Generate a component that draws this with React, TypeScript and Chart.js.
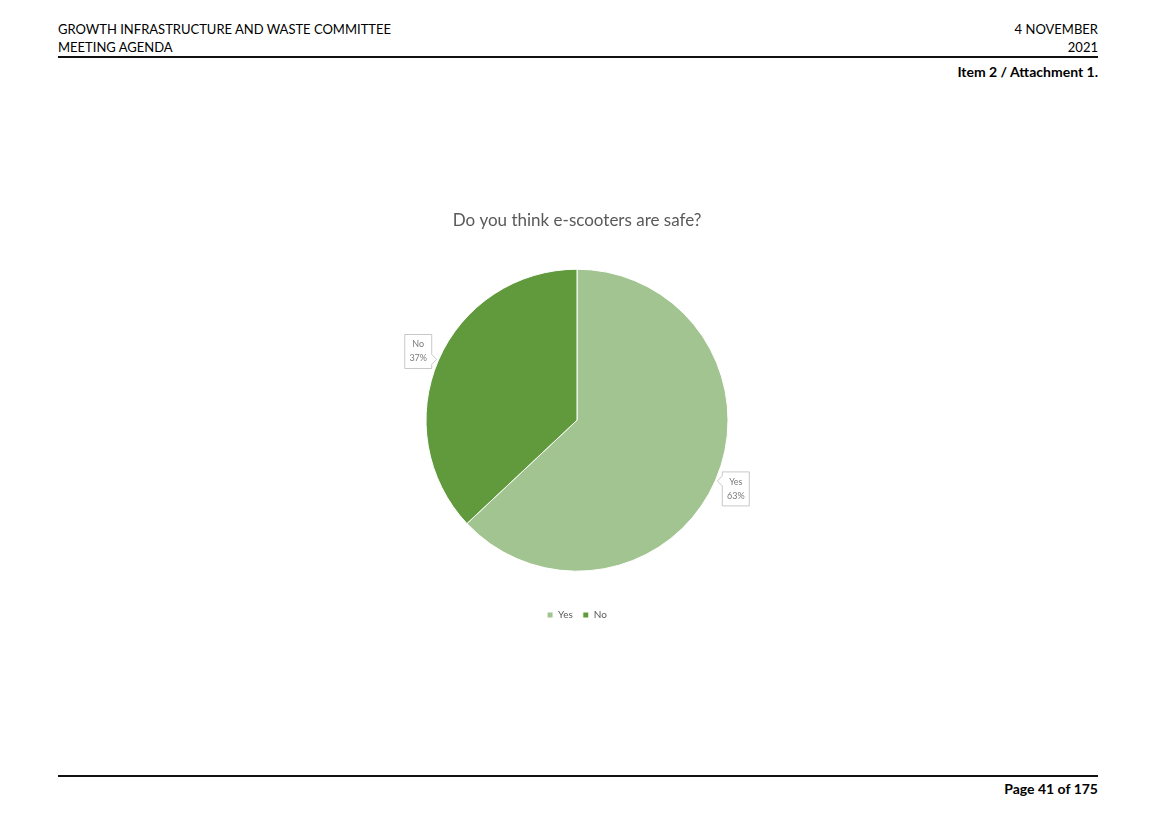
import React, { useEffect, useRef } from "react";
import { Chart, registerables } from "chart.js";

Chart.register(...registerables);

const categories = ["Yes", "No"];
const percentValues = [63, 37];
const sliceColors = ["#A2C491", "#619A3D"];
const chartTitle = "Do you think e-scooters are safe?";

const FONT = "Lato, 'Open Sans', sans-serif";

const calloutPlugin = {
  id: "callouts",
  afterDatasetsDraw(chart: any) {
    const meta = chart.getDatasetMeta(0);
    const ctx = chart.ctx as CanvasRenderingContext2D;
    const values = chart.data.datasets[0].data as number[];
    const labels = chart.data.labels as string[];
    meta.data.forEach((arc: any, i: number) => {
      const p = arc.getProps(["x", "y", "startAngle", "endAngle", "outerRadius"], true);
      const mid = (p.startAngle + p.endAngle) / 2;
      const ux = Math.cos(mid);
      const uy = Math.sin(mid);
      const bw = 27;
      const bh = 34;
      const cx = p.x + ux * (p.outerRadius + 22);
      const cy = p.y + uy * (p.outerRadius + 22);
      const l = cx - bw / 2, r = cx + bw / 2, t = cy - bh / 2, b = cy + bh / 2;
      const tx = p.x + ux * (p.outerRadius + 2);
      const ty = p.y + uy * (p.outerRadius + 2);
      const pts: [number, number][] = [];
      const half = 5;
      const clampY = Math.min(Math.max(ty, t + half + 1), b - half - 1);
      if (ux < 0) {
        pts.push([l, t], [r, t], [r, clampY - half], [tx, ty], [r, clampY + half], [r, b], [l, b]);
      } else {
        pts.push([l, t], [r, t], [r, b], [l, b], [l, clampY + half], [tx, ty], [l, clampY - half]);
      }
      ctx.save();
      ctx.beginPath();
      pts.forEach(([x, y], k) => (k === 0 ? ctx.moveTo(x, y) : ctx.lineTo(x, y)));
      ctx.closePath();
      ctx.fillStyle = "#FFFFFF";
      ctx.fill();
      ctx.strokeStyle = "#C8C8C8";
      ctx.lineWidth = 1;
      ctx.stroke();
      ctx.fillStyle = "#7A7A7A";
      ctx.font = `9px ${FONT}`;
      ctx.textAlign = "center";
      ctx.textBaseline = "middle";
      ctx.fillText(labels[i], cx, cy - 7);
      ctx.fillText(`${values[i]}%`, cx, cy + 7);
      ctx.restore();
    });
  },
};

function PieChart() {
  const ref = useRef<HTMLCanvasElement | null>(null);
  useEffect(() => {
    if (!ref.current) return;
    const chart = new Chart(ref.current, {
      type: "pie",
      data: {
        labels: categories,
        datasets: [
          {
            data: percentValues,
            backgroundColor: sliceColors,
            borderColor: "#FFFFFF",
            borderWidth: 1,
            radius: 151,
          } as any,
        ],
      },
      options: {
        responsive: false,
        animation: false,
        maintainAspectRatio: false,
        layout: { padding: 0 },
        plugins: {
          title: {
            display: true,
            text: chartTitle,
            color: "#595959",
            font: { family: FONT, size: 17, weight: "normal" },
            padding: { top: 15, bottom: 10 },
          },
          legend: {
            display: true,
            position: "bottom",
            labels: {
              boxWidth: 6,
              boxHeight: 6,
              color: "#595959",
              font: { family: FONT, size: 10 },
              padding: 10,
            },
          },
          tooltip: { enabled: false },
        },
      },
      plugins: [calloutPlugin],
    });
    return () => chart.destroy();
  }, []);
  return <canvas ref={ref} width={540} height={435} style={{ position: "absolute", left: 307, top: 195 }} />;
}

const textBase: React.CSSProperties = {
  position: "absolute",
  fontFamily: FONT,
  fontSize: 13,
  lineHeight: "18px",
  color: "#000",
  whiteSpace: "nowrap",
};

const boldText: React.CSSProperties = { ...textBase, fontSize: 14, fontWeight: 700 };

export default function App() {
  return (
    <div style={{ position: "absolute", left: 0, top: 0, width: 1155, height: 816, background: "#fff", overflow: "hidden" }}>
      <div style={{ ...textBase, left: 58, top: 20 }}>GROWTH INFRASTRUCTURE AND WASTE COMMITTEE</div>
      <div style={{ ...textBase, left: 58, top: 38 }}>MEETING AGENDA</div>
      <div style={{ ...textBase, left: 700, width: 398, textAlign: "right", top: 20 }}>4 NOVEMBER</div>
      <div style={{ ...textBase, left: 700, width: 398, textAlign: "right", top: 38 }}>2021</div>
      <div style={{ position: "absolute", left: 58, top: 56, width: 1040, height: 2, background: "#111" }} />
      <div style={{ ...boldText, left: 700, width: 398, textAlign: "right", top: 63 }}>Item 2 / Attachment 1.</div>
      <PieChart />
      <div style={{ position: "absolute", left: 58, top: 775, width: 1040, height: 2, background: "#111" }} />
      <div style={{ ...boldText, left: 700, width: 398, textAlign: "right", top: 780 }}>Page 41 of 175</div>
    </div>
  );
}
